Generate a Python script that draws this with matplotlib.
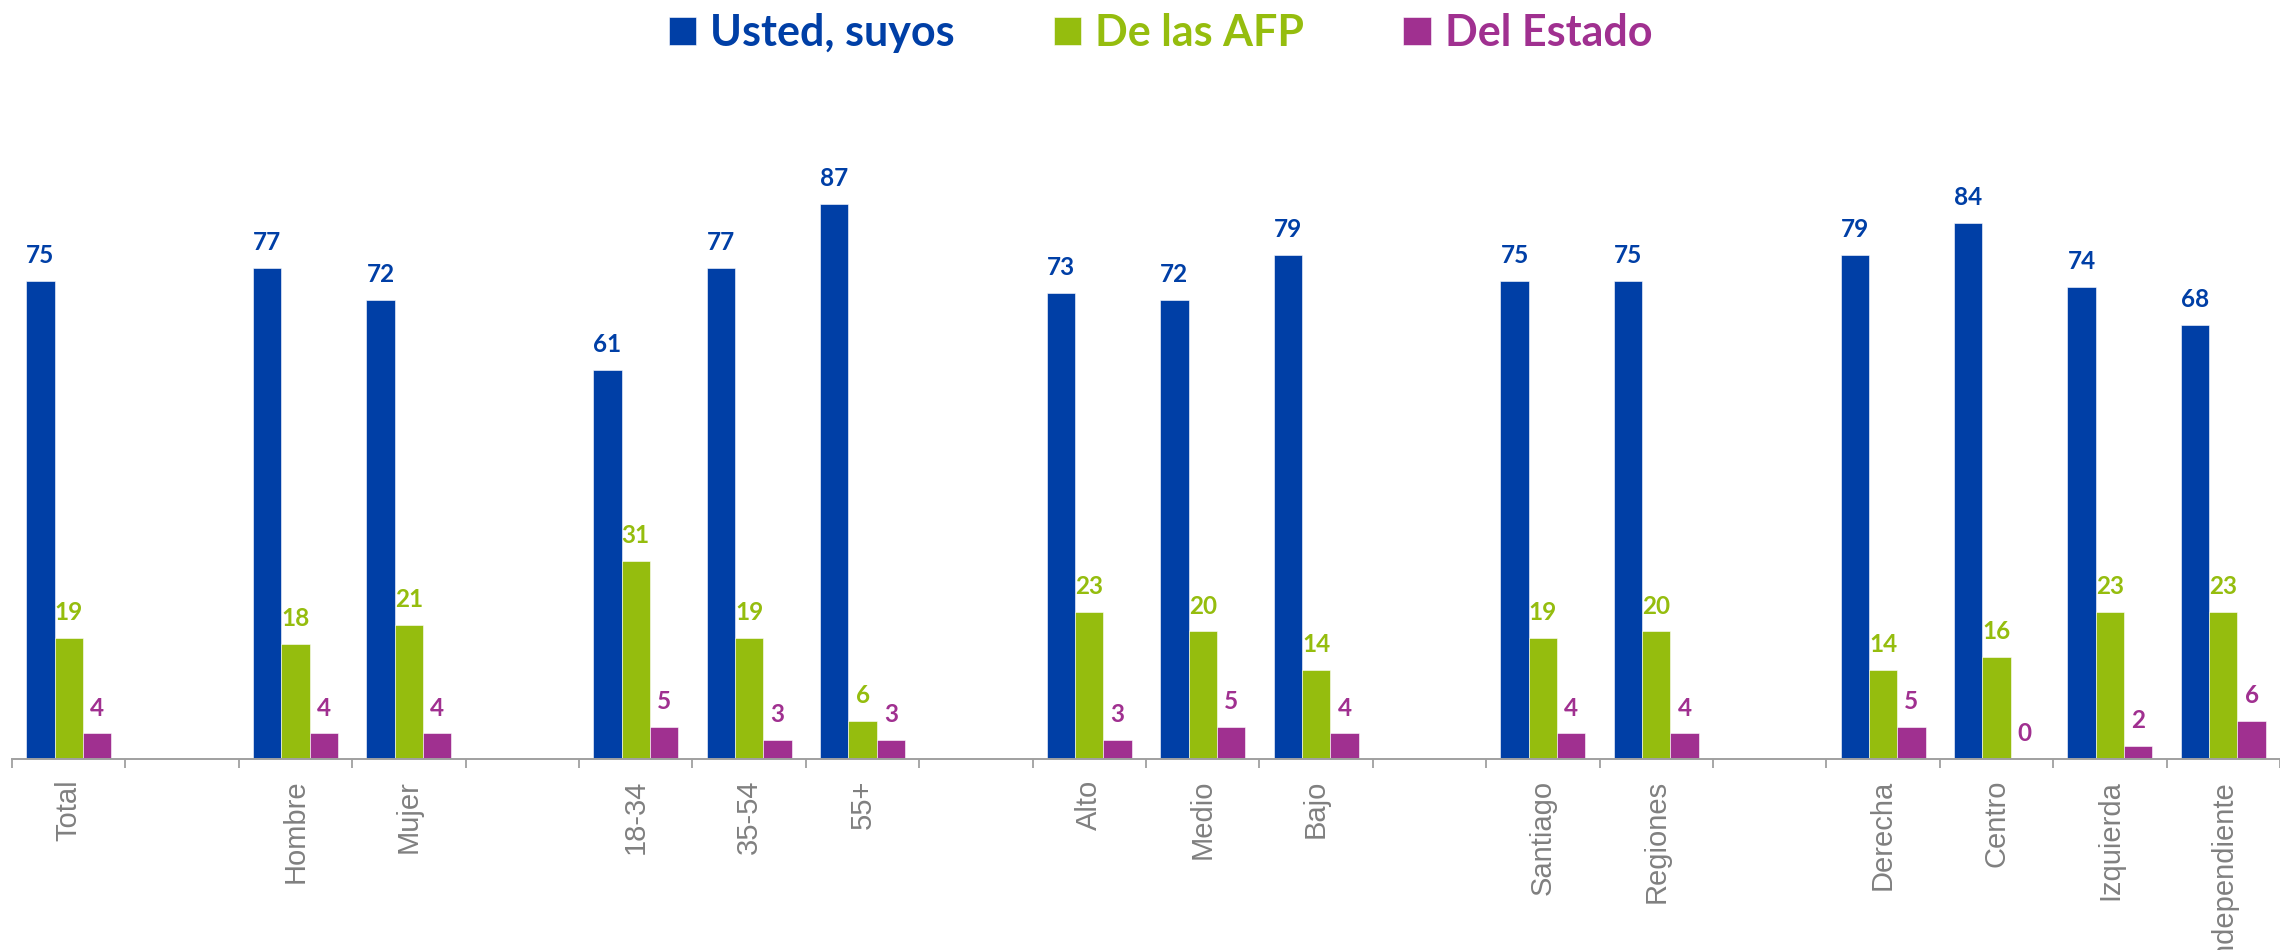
#!/usr/bin/env python
"""Grouped bars: de quién son los fondos de pensiones, por segmento."""
import matplotlib
matplotlib.use("Agg")
import matplotlib.pyplot as plt
import numpy as np

# empty strings are the spacer slots between segment groups
categories = ["Total", "", "Hombre", "Mujer", "", "18-34", "35-54", "55+", "",
              "Alto", "Medio", "Bajo", "", "Santiago", "Regiones", "",
              "Derecha", "Centro", "Izquierda", "Independiente"]
usted = [75, None, 77, 72, None, 61, 77, 87, None, 73, 72, 79, None, 75, 75, None,
         79, 84, 74, 68]
afp = [19, None, 18, 21, None, 31, 19, 6, None, 23, 20, 14, None, 19, 20, None,
       14, 16, 23, 23]
estado = [4, None, 4, 4, None, 5, 3, 3, None, 3, 5, 4, None, 4, 4, None,
          5, 0, 2, 6]
series_names = ["Usted, suyos", "De las AFP", "Del Estado"]
colors = ["#003FA6", "#95BD0E", "#A03090"]


def main() -> None:
    fig = plt.figure(figsize=(22.8, 9.5), dpi=100)
    ax = fig.add_axes([12 / 2280, 191 / 950, 1 - 12 / 2280, 638 / 950])

    x = np.arange(len(categories))
    width = 0.25
    handles = []
    for i, (name, vals, col) in enumerate(zip(series_names, [usted, afp, estado], colors)):
        idx = [k for k, v in enumerate(vals) if v is not None]
        heights = [vals[k] for k in idx]
        bars = ax.bar(x[idx] + (i - 1) * width, heights, width, color=col,
                      edgecolor="white", linewidth=0.4, label=name)
        ax.bar_label(bars, labels=[f"{h:g}" for h in heights], padding=10,
                     color=col, fontsize=17.5, fontweight="bold", family="Lato")
        handles.append(bars)

    ax.set_ylim(0, 100)
    ax.set_xlim(-0.5, -0.5 + 2268 / 114)
    ax.set_xticks(x)
    ax.set_xticklabels(categories, rotation=90, color="#808080", fontsize=21,
                       family="Liberation Sans", va="top")
    ax.tick_params(axis="x", which="major", length=0, pad=15)
    ax.set_xticks(np.arange(len(categories) + 1) - 0.5, minor=True)
    ax.tick_params(axis="x", which="minor", length=6.5, width=1.3, color="#A0A0A0",
                   direction="out")
    ax.set_yticks([])
    for side in ["top", "right", "left"]:
        ax.spines[side].set_visible(False)
    ax.spines["bottom"].set_color("#A0A0A0")
    ax.spines["bottom"].set_linewidth(1.4)

    leg = fig.legend(handles, series_names, loc="center", bbox_to_anchor=(0.509, 1 - 33 / 950),
                     ncol=3, frameon=False, handlelength=0.64, handleheight=0.64,
                     handletextpad=0.32, columnspacing=2.3,
                     prop={"family": "Lato", "weight": "bold", "size": 31})
    for text, col in zip(leg.get_texts(), colors):
        text.set_color(col)

    fig.savefig("out.png", dpi=100)
    plt.close(fig)


if __name__ == "__main__":
    main()
